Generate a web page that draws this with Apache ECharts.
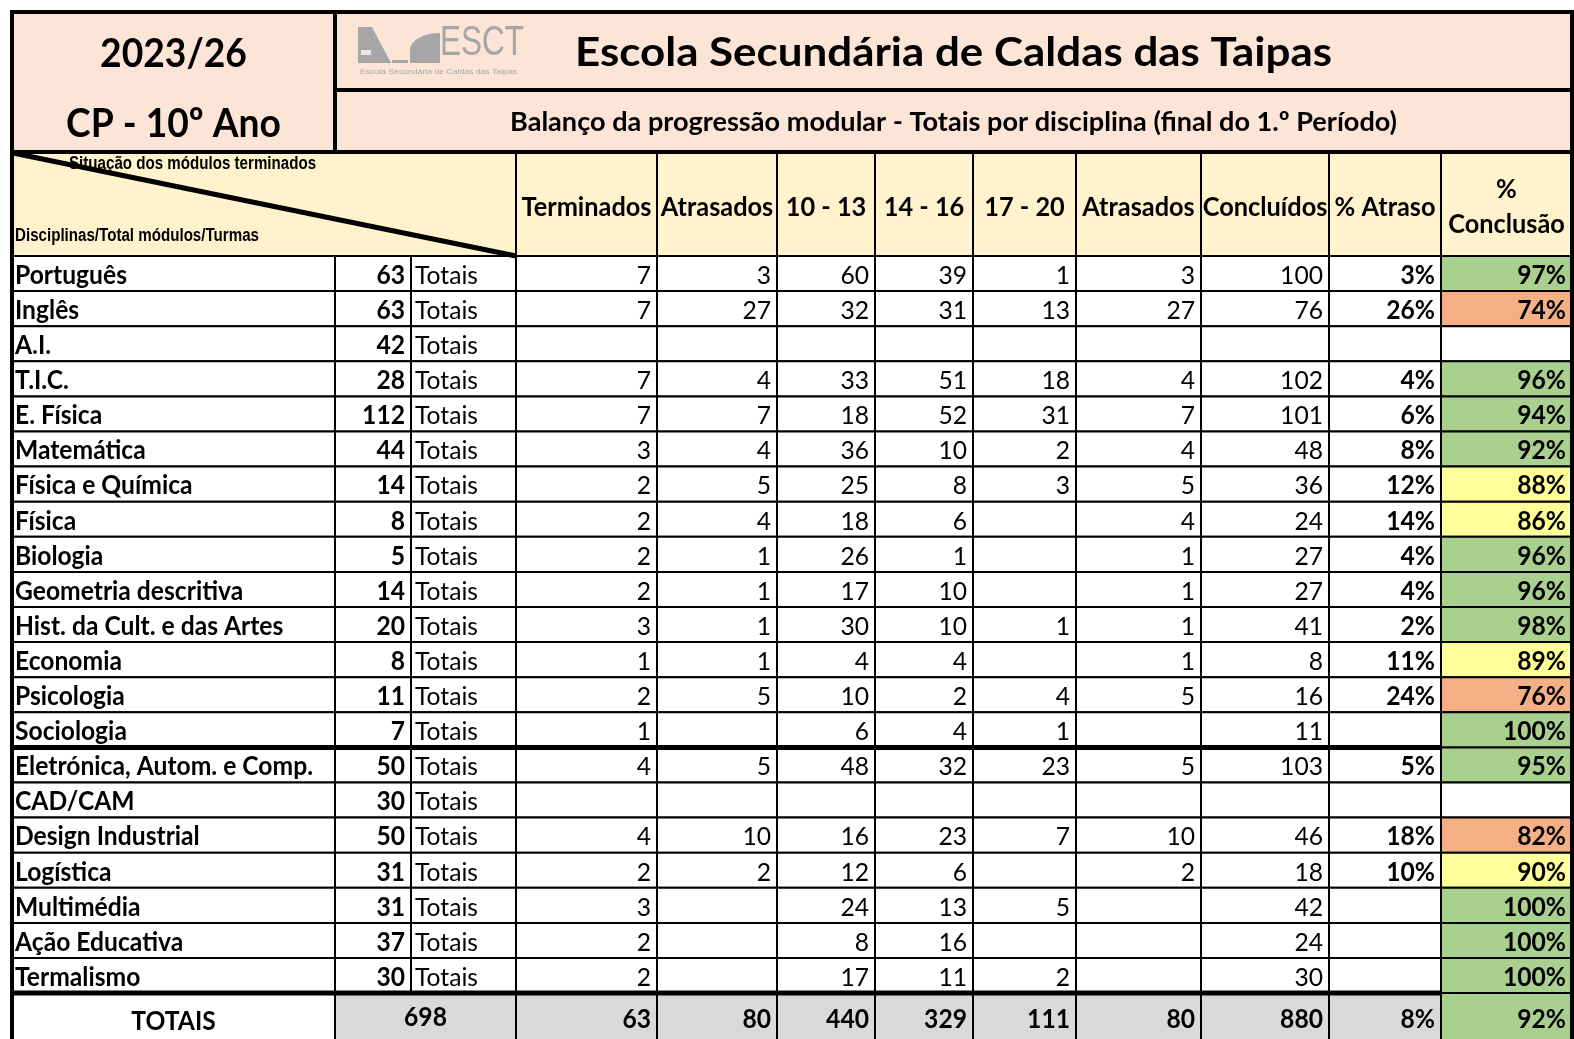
<!DOCTYPE html>
<html lang="pt">
<head>
    <meta charset="UTF-8"/>
    <script src="https://cdn.jsdelivr.net/npm/echarts@6/dist/echarts.min.js"></script>
    <title>Balanço da progressão modular</title>
    <style>
        html, body { margin: 0; padding: 0; background: #fff; }
    </style>
</head>
<body>
<div id="main" style="width:1574px; height:1039px;"></div>
<script type="text/javascript">
    var disciplinas = ['Português', 'Inglês', 'A.I.', 'T.I.C.', 'E. Física', 'Matemática', 'Física e Química',
        'Física', 'Biologia', 'Geometria descritiva', 'Hist. da Cult. e das Artes', 'Economia', 'Psicologia',
        'Sociologia', 'Eletrónica, Autom. e Comp.', 'CAD/CAM', 'Design Industrial', 'Logística', 'Multimédia',
        'Ação Educativa', 'Termalismo'];
    var totalModulos = [63, 63, 42, 28, 112, 44, 14, 8, 5, 14, 20, 8, 11, 7, 50, 30, 50, 31, 31, 37, 30];
    var terminados   = [7, 7, null, 7, 7, 3, 2, 2, 2, 2, 3, 1, 2, 1, 4, null, 4, 2, 3, 2, 2];
    var atrasados    = [3, 27, null, 4, 7, 4, 5, 4, 1, 1, 1, 1, 5, null, 5, null, 10, 2, null, null, null];
    var n10a13       = [60, 32, null, 33, 18, 36, 25, 18, 26, 17, 30, 4, 10, 6, 48, null, 16, 12, 24, 8, 17];
    var n14a16       = [39, 31, null, 51, 52, 10, 8, 6, 1, 10, 10, 4, 2, 4, 32, null, 23, 6, 13, 16, 11];
    var n17a20       = [1, 13, null, 18, 31, 2, 3, null, null, null, 1, null, 4, 1, 23, null, 7, null, 5, null, 2];
    var atrasadosFim = [3, 27, null, 4, 7, 4, 5, 4, 1, 1, 1, 1, 5, null, 5, null, 10, 2, null, null, null];
    var concluidos   = [100, 76, null, 102, 101, 48, 36, 24, 27, 27, 41, 8, 16, 11, 103, null, 46, 18, 42, 24, 30];
    var pctAtraso    = [3, 26, null, 4, 6, 8, 12, 14, 4, 4, 2, 11, 24, null, 5, null, 18, 10, null, null, null];
    var pctConclusao = [97, 74, null, 96, 94, 92, 88, 86, 96, 96, 98, 89, 76, 100, 95, null, 82, 90, 100, 100, 100];
    var totais       = [698, 63, 80, 440, 329, 111, 80, 880, 8, 92];
    var cabecalhos   = ['Terminados', 'Atrasados', '10 - 13', '14 - 16', '17 - 20', 'Atrasados', 'Concluídos', '% Atraso', '%\nConclusão'];

    var titulo = 'Escola Secundária de Caldas das Taipas';
    var subtitulo = 'Balanço da progressão modular - Totais por disciplina (final do 1.º Período)';

    // layout
    var LATO = 'Lato, Carlito, Calibri, sans-serif';
    var ARIAL = '"Liberation Sans", Arial, sans-serif';
    var colEdges = [12, 335, 411, 516, 657, 777, 875, 973, 1076, 1201, 1329, 1441, 1572];
    var rowTop = 256, rowH = 35.1, totRowH = 60;
    var PEACH = '#FCE4D6', CREAM = '#FFF2CC', GREY = '#D9D9D9';

    // tamanho pela altura das maiúsculas, largura por escala horizontal
    var ctx = document.createElement('canvas').getContext('2d');
    function fitBox(text, weight, family, targetW, capH, capRatio) {
        var size = capH / capRatio;
        ctx.font = weight + ' ' + size + 'px ' + family;
        return {size: size, sx: targetW / ctx.measureText(text).width};
    }
    var fTitle = fitBox(titulo, 'bold', LATO, 757, 29, 0.7165);
    var fYear = fitBox('CP - 10º Ano', 'bold', LATO, 215, 29, 0.7165);
    var fSub = fitBox(subtitulo, 'bold', LATO, 887, 19.5, 0.7165);
    var fHead = fitBox('Terminados', 'bold', LATO, 130, 19, 0.7165);
    var fCell = fitBox('Eletrónica, Autom. e Comp.', 'bold', LATO, 298, 18.5, 0.7165);
    var fSmall = fitBox('Disciplinas/Total módulos/Turmas', 'bold', ARIAL, 244, 12.5, 0.716);
    var fLogo = fitBox('ESCT', 'normal', ARIAL, 84, 30, 0.716);
    var fLogoSub = fitBox(titulo, 'normal', ARIAL, 157, 4.5, 0.716);

    function corConclusao(v) {
        if (v >= 91) return '#A9D08E';
        if (v >= 85) return '#FFFF99';
        return '#F4B084';
    }

    var cells = [];
    function cell(x0, y0, x1, y1, o) {
        o = o || {};
        var f = o.font || fCell;
        cells.push({
            x0: x0, y0: y0, x1: x1, y1: y1,
            fill: o.fill, text: o.text, align: o.align || 'center', pad: o.pad == null ? 5 : o.pad,
            size: f.size, sx: f.sx, weight: o.weight || 'normal', family: o.family || LATO,
            dy: o.dy == null ? 0 : o.dy, lineHeight: o.lineHeight, noStroke: o.noStroke
        });
    }
    function fmt(v, suf) { return v == null ? '' : v + (suf || ''); }

    // cabeçalho
    cell(12, 12, 335, 152, {fill: PEACH});
    cell(12, 12, 335, 90, {text: '2023/26', weight: 'bold', font: fYear, noStroke: true, dy: 3});
    cell(12, 90, 335, 152, {text: 'CP - 10º Ano', weight: 'bold', font: fYear, noStroke: true, dy: 3});
    cell(335, 12, 1572, 90, {fill: PEACH, text: titulo, weight: 'bold', font: fTitle, dy: 2});
    cell(335, 90, 1572, 152, {fill: PEACH, text: subtitulo, weight: 'bold', font: fSub, dy: 1});
    cell(12, 152, 516, 256, {fill: CREAM});
    cell(12, 152, 400, 176, {text: 'Situação dos módulos terminados', align: 'left', pad: 57, weight: 'bold', family: ARIAL, font: fSmall, noStroke: true});
    cell(12, 224, 400, 248, {text: 'Disciplinas/Total módulos/Turmas', align: 'left', pad: 3, weight: 'bold', family: ARIAL, font: fSmall, noStroke: true});
    for (var c = 0; c < cabecalhos.length; c++) {
        cell(colEdges[c + 3], 152, colEdges[c + 4], 256, {fill: CREAM, text: cabecalhos[c], weight: 'bold', font: fHead, lineHeight: 35, dy: 3});
    }

    // linhas de disciplinas
    var colunasNum = [terminados, atrasados, n10a13, n14a16, n17a20, atrasadosFim, concluidos];
    for (var r = 0; r < disciplinas.length; r++) {
        var y0 = rowTop + r * rowH, y1 = y0 + rowH, d = 2;
        cell(colEdges[0], y0, colEdges[1], y1, {fill: '#fff', text: disciplinas[r], align: 'left', pad: 3, weight: 'bold', dy: d});
        cell(colEdges[1], y0, colEdges[2], y1, {fill: '#fff', text: fmt(totalModulos[r]), align: 'right', pad: 6, weight: 'bold', dy: d});
        cell(colEdges[2], y0, colEdges[3], y1, {fill: '#fff', text: 'Totais', align: 'left', pad: 4, dy: d});
        for (var k = 0; k < colunasNum.length; k++) {
            cell(colEdges[k + 3], y0, colEdges[k + 4], y1, {fill: '#fff', text: fmt(colunasNum[k][r]), align: 'right', pad: 6, dy: d});
        }
        cell(colEdges[10], y0, colEdges[11], y1, {fill: '#fff', text: fmt(pctAtraso[r], '%'), align: 'right', pad: 6, weight: 'bold', dy: d});
        cell(colEdges[11], y0, colEdges[12], y1, {
            fill: pctConclusao[r] == null ? '#fff' : corConclusao(pctConclusao[r]),
            text: fmt(pctConclusao[r], '%'), align: 'right', pad: 6, weight: 'bold', dy: d
        });
    }

    // linha de totais
    var ty0 = rowTop + disciplinas.length * rowH, ty1 = ty0 + totRowH;
    cell(colEdges[0], ty0, colEdges[1], ty1, {fill: '#fff', text: 'TOTAIS', weight: 'bold', dy: -1});
    cell(colEdges[1], ty0, colEdges[3], ty1, {fill: GREY, text: fmt(totais[0]), weight: 'bold', dy: -5});
    for (var t = 1; t < totais.length; t++) {
        var suf = t >= 8 ? '%' : '';
        cell(colEdges[t + 2], ty0, colEdges[t + 3], ty1, {
            fill: t === 9 ? corConclusao(totais[t]) : GREY,
            text: fmt(totais[t], suf), align: 'right', pad: 6, weight: 'bold', dy: -3
        });
    }

    // linhas grossas
    var rules = [
        [10, 12, 1574, 12, 4], [12, 10, 12, 1060, 4], [1572, 10, 1572, 1060, 4],
        [335, 90, 1572, 90, 4], [335, 12, 335, 152, 4], [12, 152, 1572, 152, 4],
        [13, 153, 516, 256, 5],
        [12, rowTop + 14 * rowH, colEdges[11], rowTop + 14 * rowH, 5],
        [12, ty0, colEdges[11], ty0, 5]
    ];

    // logótipo (curva aproximada)
    var curva = [[410, 63], [410, 50]];
    for (var i = 1; i <= 8; i++) {
        var a = i / 8 * Math.PI / 2;
        curva.push([440 - 30 * Math.cos(a), 50 - 17 * Math.sin(a)]);
    }
    curva.push([440, 63]);

    var myChart = echarts.init(document.getElementById('main'));
    var option = {
        animation: false,
        grid: {left: 0, right: 0, top: 0, bottom: 0},
        xAxis: {type: 'value', min: 0, max: 1574, show: false},
        yAxis: {type: 'value', min: 0, max: 1039, inverse: true, show: false},
        graphic: [
            {type: 'polygon', z: 10, shape: {points: [[358, 27], [372, 27], [391, 63], [358, 63]]}, style: {fill: '#A6A6A6'}},
            {type: 'rect', z: 10, shape: {x: 361, y: 50, width: 10, height: 5}, style: {fill: '#E8E8E8'}},
            {type: 'rect', z: 10, shape: {x: 392, y: 60, width: 16, height: 3}, style: {fill: '#A6A6A6'}},
            {type: 'polygon', z: 10, shape: {points: curva}, style: {fill: '#A6A6A6'}},
            {type: 'text', z: 10, x: 440, y: 64, scaleX: fLogo.sx, style: {text: 'ESCT', fill: '#A6A6A6', font: 'normal ' + fLogo.size + 'px ' + ARIAL, verticalAlign: 'bottom', align: 'left'}},
            {type: 'text', z: 10, x: 360, y: 72, scaleX: fLogoSub.sx, style: {text: titulo, fill: '#A6A6A6', font: 'normal ' + fLogoSub.size + 'px ' + ARIAL, verticalAlign: 'middle', align: 'left'}}
        ],
        series: [
            {
                type: 'custom',
                clip: false,
                data: cells.map(function (c) { return [c.x0, c.y0, c.x1, c.y1]; }),
                renderItem: function (params, api) {
                    var c = cells[params.dataIndex];
                    var p0 = api.coord([api.value(0), api.value(1)]);
                    var p1 = api.coord([api.value(2), api.value(3)]);
                    var children = [];
                    if (c.fill) {
                        children.push({
                            type: 'rect',
                            shape: {x: p0[0], y: p0[1], width: p1[0] - p0[0], height: p1[1] - p0[1]},
                            style: {fill: c.fill, stroke: c.noStroke ? null : '#000', lineWidth: 2}
                        });
                    }
                    if (c.text != null && c.text !== '') {
                        var tx = c.align === 'left' ? p0[0] + c.pad : (c.align === 'right' ? p1[0] - c.pad : (p0[0] + p1[0]) / 2);
                        children.push({
                            type: 'text', x: tx, y: (p0[1] + p1[1]) / 2 + c.dy, scaleX: c.sx,
                            style: {
                                text: c.text, align: c.align, verticalAlign: 'middle',
                                fontFamily: c.family, fontSize: c.size, fontWeight: c.weight,
                                fill: '#000', lineHeight: c.lineHeight
                            }
                        });
                    }
                    return {type: 'group', children: children};
                }
            },
            {
                type: 'custom',
                clip: false,
                z: 5,
                data: rules,
                renderItem: function (params, api) {
                    var a = api.coord([api.value(0), api.value(1)]);
                    var b = api.coord([api.value(2), api.value(3)]);
                    return {
                        type: 'line',
                        shape: {x1: a[0], y1: a[1], x2: b[0], y2: b[1]},
                        style: {stroke: '#000', lineWidth: api.value(4)}
                    };
                }
            }
        ]
    };
    myChart.setOption(option);
</script>
</body>
</html>
